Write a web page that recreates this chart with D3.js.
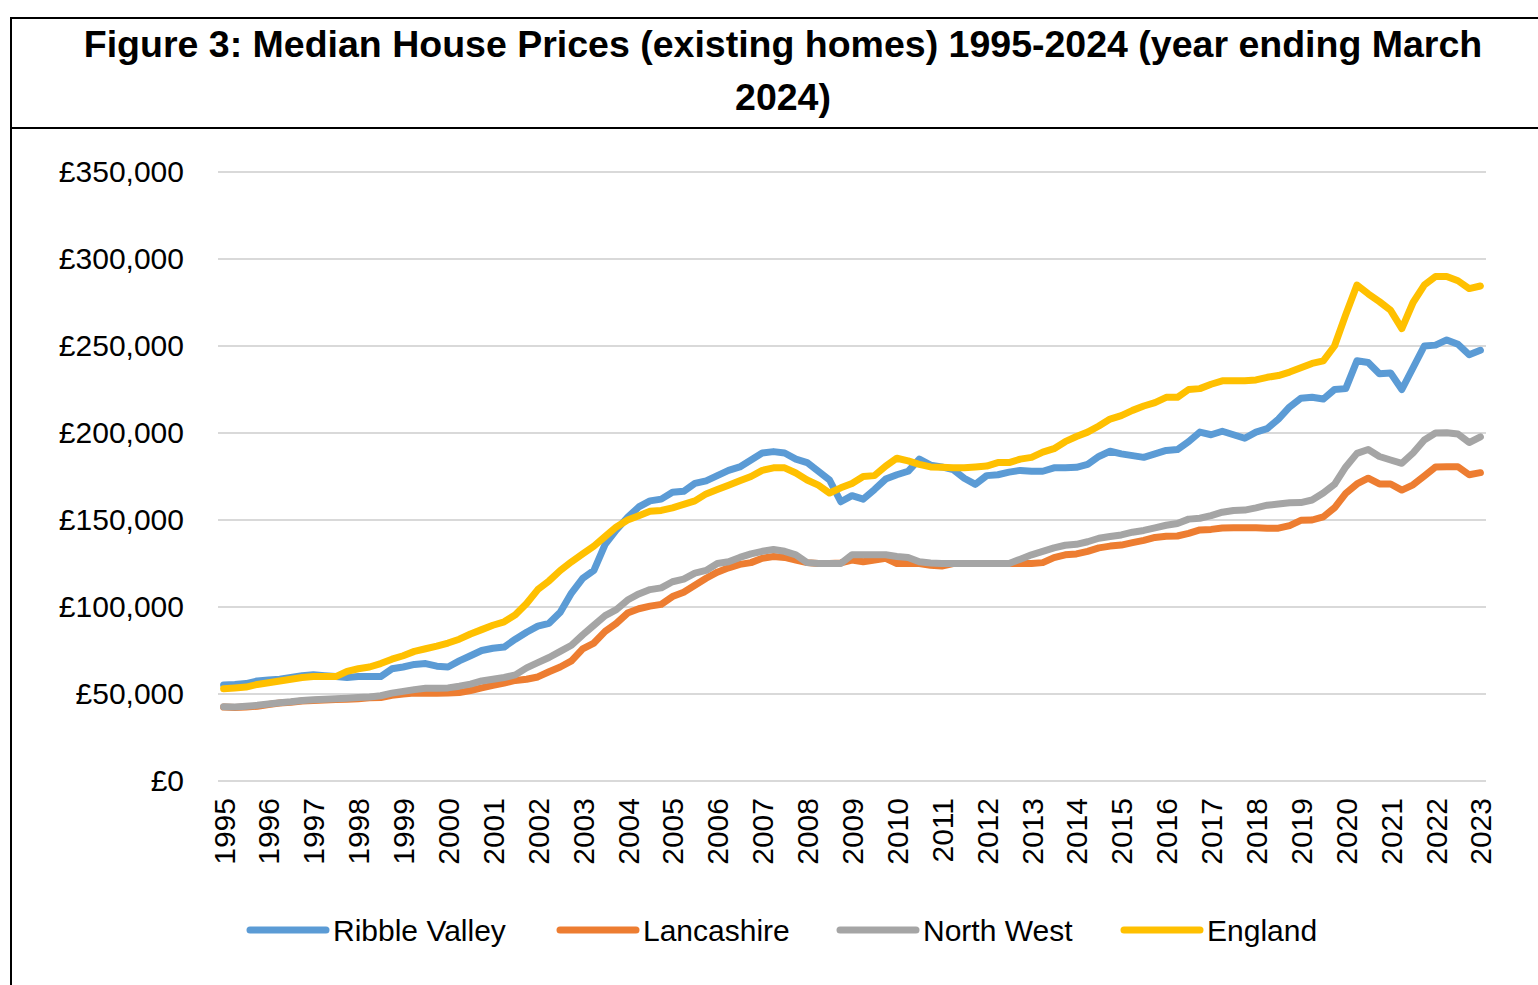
<!DOCTYPE html>
<html>
<head>
<meta charset="utf-8">
<script src="https://cdn.jsdelivr.net/npm/d3@7"></script>
<style>
  body { margin: 0; background: #fff; }
  svg { display: block; font-family: "Liberation Sans", Arial, sans-serif; }
</style>
</head>
<body>
<div id="chart"></div>
<script>
// quarterly medians (year ending), one value per quarter, £
const ribbleValley = [
  55200, 55500, 56000, 57500, 58000, 58500, 59500, 60500, 61000, 60500,
  60000, 59500, 60000, 60000, 60000, 64500, 65500, 67000, 67500, 66000,
  65500, 69000, 72000, 75000, 76300, 77000, 81500, 85500, 89000, 90600,
  97000, 108000, 116500, 121000, 136000, 144300, 151500, 157500, 161000, 162000,
  165900, 166500, 171000, 172500, 175500, 178500, 180500, 184500, 188500, 189300,
  188500, 185000, 183000, 178000, 173000, 160500, 164000, 162000, 167500, 173500,
  176000, 178000, 185000, 181500, 180500, 179000, 174000, 170500, 175500, 176000,
  177500, 178500, 178000, 178000, 180000, 180000, 180300, 182000, 186500, 189500,
  188000, 187000, 186000, 188000, 190000, 190500, 195000, 200500, 199000, 201000,
  199000, 197000, 200500, 202500, 208000, 215000, 220000, 220500, 219500, 225000,
  225500, 241500, 240500, 234000, 234500, 225000, 237500, 250000, 250500, 253500,
  251000, 245000, 247500
];
const lancashire = [
  42500, 42300, 42500, 43000, 44000, 44800, 45300, 46000, 46300, 46500,
  46800, 47000, 47300, 47800, 48000, 49300, 50000, 50500, 50400, 50500,
  50600, 50800, 52000, 53500, 55000, 56300, 57800, 58500, 59800, 62800,
  65500, 69000, 76000, 79300, 86000, 90600, 96500, 99000, 100500, 101500,
  106000, 108500, 112500, 116500, 120000, 122500, 124500, 125500, 128000, 129000,
  128500, 127000, 125500, 125000, 125000, 125300, 127000, 126000, 127000, 128000,
  125000, 125000, 125000, 124000, 123500, 125000, 125000, 125000, 125000, 125000,
  125000, 125000, 125000, 125500, 128400, 130000, 130500, 132000, 134000, 135000,
  135600, 137000, 138300, 140000, 140600, 140800, 142300, 144300, 144600, 145400,
  145600, 145600, 145600, 145300, 145300, 146800, 149800, 150000, 151800, 157000,
  165300, 170700, 174000, 170700, 170700, 167200, 170200, 175300, 180500, 180600,
  180600, 176000, 177200
];
const northWest = [
  42700, 42500, 43000, 43500, 44200, 45000, 45500, 46300, 46700, 47000,
  47300, 47600, 48000, 48300, 49000, 50500, 51500, 52500, 53300, 53300,
  53500, 54500, 55700, 57500, 58500, 59500, 61000, 65000, 68000, 71000,
  74500, 78000, 84000, 89500, 95000, 98500, 104000, 107500, 110000, 111000,
  114500, 116000, 119500, 121000, 125000, 126000, 128500, 130500, 132000, 133000,
  132000, 130000, 125500, 125000, 125000, 125000, 130000, 130000, 130000, 130000,
  129000, 128500, 126000, 125300, 125000, 125000, 125000, 125000, 125000, 125000,
  125000, 127500, 130000, 132000, 134000, 135500, 136000, 137500, 139500, 140500,
  141400, 143000, 144000, 145500, 147000, 148000, 150500, 151000, 152500, 154500,
  155500, 155700, 157000, 158500, 159200, 159900, 160000, 161500, 165500, 170500,
  180500, 188300, 190500, 186500, 184500, 182600, 188500, 196000, 200000, 200200,
  199400, 194500, 197800
];
const england = [
  53000, 53500, 54000, 55500, 56500, 57500, 58500, 59500, 60000, 60000,
  60000, 63000, 64500, 65500, 67500, 70000, 72000, 74500, 76000, 77500,
  79300, 81500, 84500, 87000, 89500, 91500, 95500, 102000, 110000, 115000,
  121000, 126000, 130500, 135000, 140500, 146000, 150000, 152500, 155000, 155500,
  157000, 159000, 161000, 165000, 167500, 170000, 172500, 175000, 178500, 180000,
  180000, 177000, 173000, 170000, 165500, 168500, 171000, 175000, 175500, 181000,
  185500, 184000, 182000, 180500, 180300, 180000, 180000, 180500, 181000, 183000,
  183000, 185000, 186000, 189000, 191000, 195000, 198000, 200500, 204000, 208000,
  210000, 213000, 215500, 217500, 220500, 220500, 225000, 225500, 228000, 230000,
  230000, 230000, 230500, 232000, 233000, 235000, 237500, 240000, 241500, 250000,
  268000, 285000, 280000, 275500, 270500, 260000, 275000, 285000, 290000, 290000,
  287500, 283000, 284500
];
// axis labels shown every fourth quarter
const yearLabels = [1995, 1996, 1997, 1998, 1999, 2000, 2001, 2002, 2003, 2004,
  2005, 2006, 2007, 2008, 2009, 2010, 2011, 2012, 2013, 2014, 2015, 2016, 2017,
  2018, 2019, 2020, 2021, 2022, 2023];
const yTicks = [0, 50000, 100000, 150000, 200000, 250000, 300000, 350000];
const seriesNames = ["Ribble Valley", "Lancashire", "North West", "England"];
const seriesColors = ["#5B9BD5", "#ED7D31", "#A5A5A5", "#FFC000"];

const width = 1538, height = 985;
const plot = { left: 218, right: 1486, top: 172, bottom: 781 };

const svg = d3.select("#chart").append("svg")
  .attr("width", width)
  .attr("height", height);

// frame
svg.append("line").attr("x1", 11).attr("x2", width).attr("y1", 18).attr("y2", 18)
  .attr("stroke", "#000").attr("stroke-width", 2);
svg.append("line").attr("x1", 11).attr("x2", width).attr("y1", 128).attr("y2", 128)
  .attr("stroke", "#000").attr("stroke-width", 2);
svg.append("line").attr("x1", 11).attr("x2", 11).attr("y1", 17).attr("y2", height)
  .attr("stroke", "#000").attr("stroke-width", 2);

// title
const title = svg.append("text")
  .attr("text-anchor", "middle")
  .attr("font-weight", "bold")
  .attr("font-size", 37.5);
title.append("tspan").attr("x", 783).attr("y", 57)
  .text("Figure 3: Median House Prices (existing homes) 1995-2024 (year ending March");
title.append("tspan").attr("x", 783).attr("y", 110).text("2024)");

const allSeries = [ribbleValley, lancashire, northWest, england];
const n = england.length;

const xScale = d3.scalePoint()
  .domain(d3.range(n))
  .range([plot.left, plot.right])
  .padding(0.5);

const yScale = d3.scaleLinear()
  .domain([0, 350000])
  .range([plot.bottom, plot.top]);

// gridlines
svg.append("g")
  .selectAll("line")
  .data(yTicks)
  .join("line")
  .attr("x1", plot.left)
  .attr("x2", plot.right)
  .attr("y1", d => yScale(d))
  .attr("y2", d => yScale(d))
  .attr("stroke", "#D9D9D9")
  .attr("stroke-width", 2);

// y axis labels
const yAxis = d3.axisLeft(yScale)
  .tickValues(yTicks)
  .tickSize(0)
  .tickPadding(0)
  .tickFormat(d => "£" + d3.format(",")(d));
svg.append("g")
  .attr("transform", "translate(184,0)")
  .call(yAxis)
  .call(g => g.select(".domain").remove())
  .selectAll("text")
  .attr("font-size", 30)
  .attr("font-family", "Liberation Sans, Arial, sans-serif")
  .attr("fill", "#000");

// x axis labels, one per year
const xAxis = d3.axisBottom(xScale)
  .tickValues(yearLabels.map((y, i) => i * 4))
  .tickSize(0)
  .tickFormat(d => yearLabels[d / 4]);
svg.append("g")
  .attr("transform", "translate(0," + 798 + ")")
  .call(xAxis)
  .call(g => g.select(".domain").remove())
  .selectAll("text")
  .attr("font-size", 30)
  .attr("font-family", "Liberation Sans, Arial, sans-serif")
  .attr("fill", "#000")
  .attr("text-anchor", "end")
  .attr("transform", "rotate(-90)")
  .attr("x", 0)
  .attr("y", 0)
  .attr("dx", 0)
  .attr("dy", "0.35em");

// lines
const lineFunction = d3.line()
  .x((d, i) => xScale(i))
  .y(d => yScale(d));

svg.append("g")
  .selectAll("path")
  .data(allSeries)
  .join("path")
  .attr("d", lineFunction)
  .attr("fill", "none")
  .attr("stroke", (d, i) => seriesColors[i])
  .attr("stroke-width", 7)
  .attr("stroke-linejoin", "round")
  .attr("stroke-linecap", "round");

// legend
const legendX = [250, 560, 840, 1124];
const legend = svg.append("g")
  .selectAll("g")
  .data(seriesNames)
  .join("g")
  .attr("transform", (d, i) => "translate(" + legendX[i] + ",930)");
legend.append("line")
  .attr("x1", 0).attr("x2", 76)
  .attr("stroke", (d, i) => seriesColors[i])
  .attr("stroke-width", 7)
  .attr("stroke-linecap", "round");
legend.append("text")
  .attr("x", 83)
  .attr("y", 11)
  .attr("font-size", 30)
  .attr("fill", "#000")
  .text(d => d);
</script>
</body>
</html>
